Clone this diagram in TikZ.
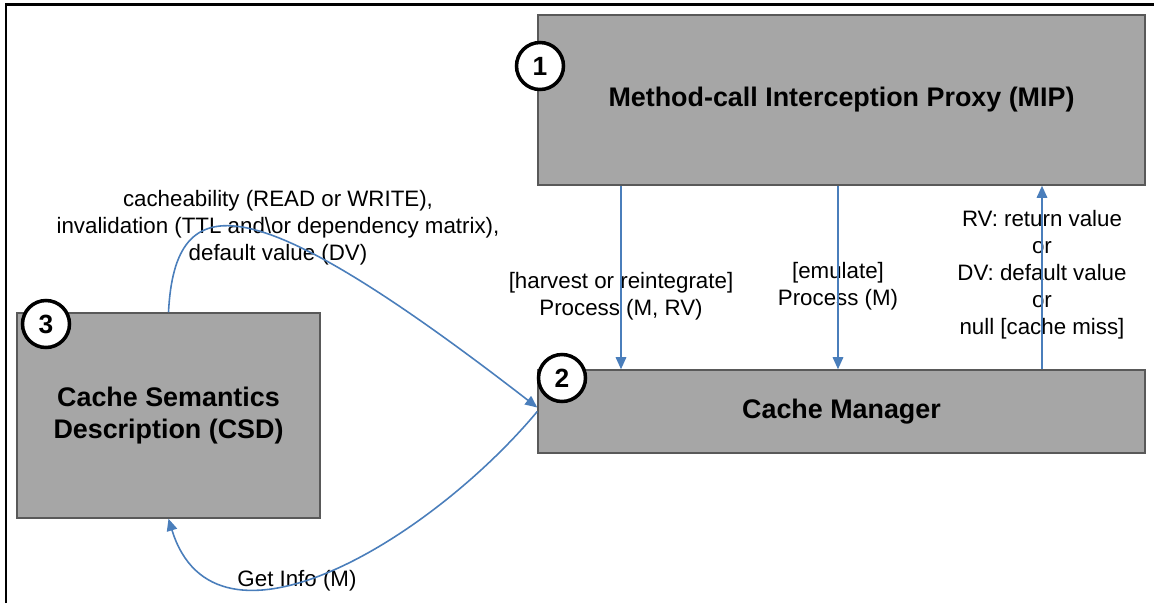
\documentclass[tikz,border=0pt]{standalone}
\usepackage{fontspec}
\setmainfont{Liberation Sans}
\usetikzlibrary{arrows.meta, positioning}
\definecolor{boxgray}{HTML}{A6A6A6}
\definecolor{edgegray}{HTML}{595959}
\definecolor{flowblue}{HTML}{4A7EBB}

\begin{document}
\begin{tikzpicture}[
    x=0.02cm, y=-0.02cm,
    block/.style={draw=edgegray, fill=boxgray, line width=0.9pt, align=center, inner sep=0pt, font=\fontsize{15.3}{18}\selectfont\bfseries},
    num/.style={circle, draw=black, fill=white, line width=2pt, minimum size=0.94cm, inner sep=0pt, font=\fontsize{15}{15}\selectfont\bfseries},
    note/.style={align=center, inner sep=0pt, font=\fontsize{12.7}{15.4}\selectfont},
    arrow/.style={-{Triangle[length=2.4mm, width=2.1mm]}, draw=flowblue, line width=0.9pt}
]
\useasboundingbox (0,0) rectangle (1154,603);

% frame
\draw[line width=1.7pt] (6,603) -- (6,4.7) -- (1154,4.7);

% components
\node[block, minimum width=12.14cm, minimum height=3.4cm] (mip) at (841.5,100) {Method-call Interception Proxy (MIP)};
\node[block, minimum width=12.14cm, minimum height=1.66cm] (cm) at (841.5,411.5) {Cache Manager};
\node[block, minimum width=6.06cm, minimum height=4.1cm] (csd) at (168.5,415.5) {Cache Semantics\\Description (CSD)};

% labels
\node[note] (harvest) at (621,296) {[harvest or reintegrate]\\Process (M, RV)};
\node[note] (emulate) at (838,286) {[emulate]\\Process (M)};
\node[note] (retval) at (1042,275) {RV: return value\\or\\DV: default value\\or\\null [cache miss]};
\node[note] (semantics) at (278,228) {cacheability (READ or WRITE),\\invalidation (TTL and\textbackslash or dependency matrix),\\default value (DV)};
\node[note] (getinfo) at (297,581) {Get Info (M)};

% flows
\draw[arrow] (mip.south -| harvest) -- (cm.north -| harvest);
\draw[arrow] (mip.south -| emulate) -- (cm.north -| emulate);
\draw[arrow] (cm.north -| retval) -- (mip.south -| retval);
\draw[arrow] (csd.north) .. controls (175,185) and (250,185) .. ([yshift=0.08cm]cm.west);
\draw[arrow] (cm.west) .. controls (430,540) and (215,670) .. (csd.south);

% numbers
\node[num] (one) at (540,66) {1};
\node[num] (two) at (562,378) {2};
\node[num] (three) at (46,324) {3};

\end{tikzpicture}
\end{document}
